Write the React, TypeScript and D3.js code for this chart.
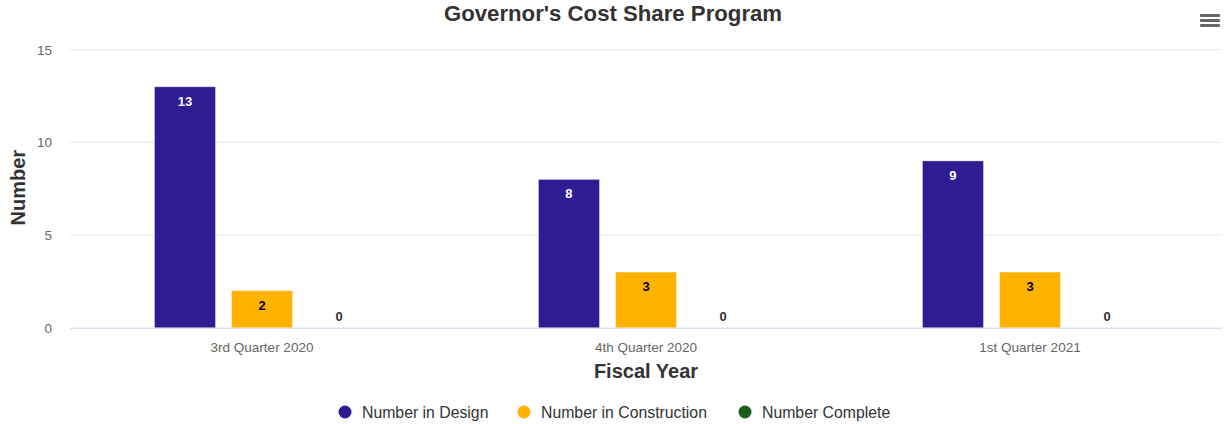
import React from 'react'
import * as d3 from 'd3'

const categories = ['3rd Quarter 2020', '4th Quarter 2020', '1st Quarter 2021']
const seriesNames = ['Number in Design', 'Number in Construction', 'Number Complete']
const design = [13, 8, 9]
const construction = [2, 3, 3]
const complete = [0, 0, 0]
const yTicks = [0, 5, 10, 15]

const colors = ['#311b92', '#ffb300', '#1b5e20']
const labelColors = ['#ffffff', '#000000', '#333333']

const W = 1225
const H = 424
const left = 70
const right = 1222
const top = 49.7
const bottom = 327.7

const App = () => {
  const series = [design, construction, complete]

  const x = d3.scaleBand().domain(categories).range([left, right])
  // bars ~61px wide with a 16px gap inside each 384px category
  const inner = d3
    .scaleBand()
    .domain(seriesNames)
    .range([0, x.bandwidth()])
    .paddingInner(0.208)
    .paddingOuter(1.097)
  const y = d3.scaleLinear().domain([0, 15]).range([bottom, top])

  const font = '"Liberation Sans", Arial, sans-serif'

  return (
    <svg width={W} height={H} style={{ position: 'absolute', left: 0, top: 0, fontFamily: font }}>
      <rect width={W} height={H} fill="#fff" />
      <text x={613} y={21} textAnchor="middle" fontSize={22.2} fontWeight="bold" fill="#333">
        Governor's Cost Share Program
      </text>

      {/* menu icon */}
      {[0, 5, 10].map(o => (
        <rect key={o} x={1200} y={14 + o} width={20} height={3} rx={1} fill="#666" />
      ))}

      {yTicks.map(t => (
        <g key={t}>
          {t > 0 && <line x1={left} x2={right} y1={y(t)} y2={y(t)} stroke="#e6e6e6" />}
          <text x={52} y={y(t) + 5} textAnchor="end" fontSize={13.5} fill="#666">
            {t}
          </text>
        </g>
      ))}
      <line x1={left} x2={right} y1={bottom + 0.5} y2={bottom + 0.5} stroke="#ccd6eb" />

      {series.map((vals, si) =>
        vals.map((v, ci) => {
          const bx = (x(categories[ci]) as number) + (inner(seriesNames[si]) as number)
          const bw = inner.bandwidth()
          const by = y(v)
          const inside = v > 0
          return (
            <g key={`${si}-${ci}`}>
              {v > 0 && (
                <rect
                  x={bx}
                  y={by}
                  width={bw}
                  height={bottom - by}
                  fill={colors[si]}
                  stroke="#ffffff"
                  strokeOpacity={0.35}
                  strokeWidth={1}
                />
              )}
              <text
                x={bx + bw / 2}
                y={inside ? by + 19 : by - 7}
                textAnchor="middle"
                fontSize={13}
                fontWeight="bold"
                fill={labelColors[si]}
              >
                {v}
              </text>
            </g>
          )
        })
      )}

      {categories.map(c => (
        <text key={c} x={(x(c) as number) + x.bandwidth() / 2} y={352} textAnchor="middle" fontSize={13.5} fill="#666">
          {c}
        </text>
      ))}

      <text x={646} y={378} textAnchor="middle" fontSize={20} fontWeight="bold" fill="#333">
        Fiscal Year
      </text>
      <text
        transform={`translate(25, ${(top + bottom) / 2 - 1}) rotate(-90)`}
        textAnchor="middle"
        fontSize={20}
        fontWeight="bold"
        fill="#333"
      >
        Number
      </text>

      {seriesNames.map((n, i) => {
        const lx = [345, 524, 745][i]
        return (
          <g key={n}>
            <circle cx={lx} cy={412} r={6.5} fill={colors[i]} />
            <text x={lx + 17} y={417.5} fontSize={15.8} fill="#333">
              {n}
            </text>
          </g>
        )
      })}
    </svg>
  )
}

export default App
